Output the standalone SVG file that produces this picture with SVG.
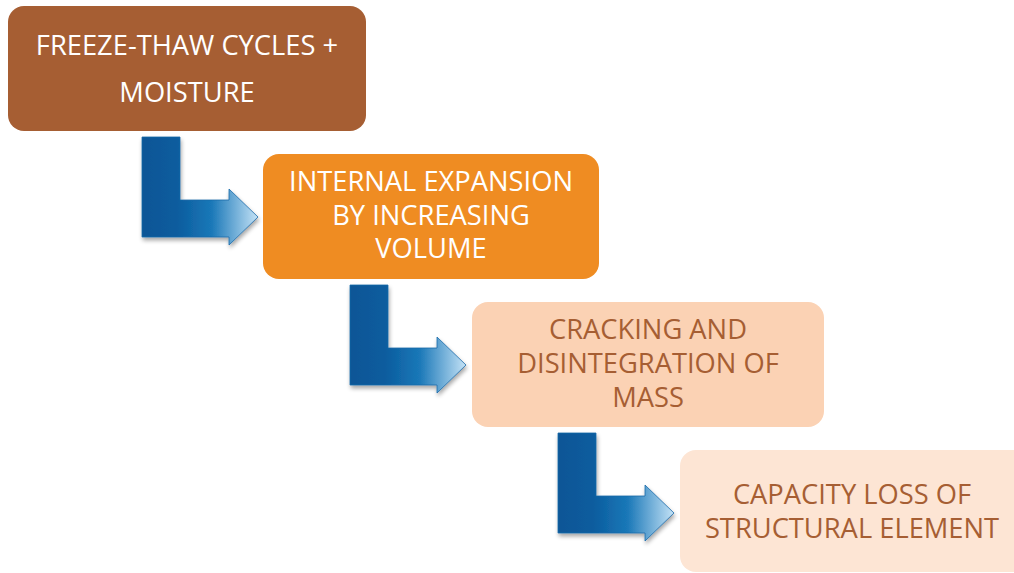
<svg xmlns="http://www.w3.org/2000/svg" width="1014" height="573" viewBox="0 0 1014 573">
<defs>
<linearGradient id="ag" x1="0" y1="0" x2="1" y2="0">
<stop offset="0" stop-color="#0B5696"/>
<stop offset="0.3" stop-color="#0B5C9E"/>
<stop offset="0.6" stop-color="#1A78B8"/>
<stop offset="1" stop-color="#C4E2F6"/>
</linearGradient>
<filter id="sh" x="-20%" y="-20%" width="150%" height="150%">
<feGaussianBlur in="SourceAlpha" stdDeviation="2"/>
<feOffset dx="1" dy="3" result="b"/>
<feComponentTransfer><feFuncA type="linear" slope="0.35"/></feComponentTransfer>
<feMerge><feMergeNode/><feMergeNode in="SourceGraphic"/></feMerge>
</filter>
<path id="arrow" d="M0,0 H38 V63 H87 V52 L116,80 L87,108 V100 H0 Z"/>
</defs>
<style>
text{font-family:"Open Sans","Liberation Sans",sans-serif;font-size:27.3px;text-anchor:middle}
.w{fill:#FFFFFF}
.b{fill:#A65E33}
.arr{fill:url(#ag);stroke:#1A6AA8;stroke-width:0.8;filter:url(#sh)}
</style>
<g id="connectors">
<use href="#arrow" class="arr" transform="translate(142,137)"/>
<use href="#arrow" class="arr" transform="translate(350,285)"/>
<use href="#arrow" class="arr" transform="translate(558,433)"/>
</g>
<g id="n1">
<rect x="8" y="6" width="358" height="125" rx="16" fill="#A65E33"/>
<text class="w" x="187" y="55">FREEZE-THAW CYCLES +</text>
<text class="w" x="187" y="102">MOISTURE</text>
</g>
<g id="n2">
<rect x="263" y="154" width="336" height="125" rx="16" fill="#EF8C22"/>
<text class="w" x="431" y="191">INTERNAL EXPANSION</text>
<text class="w" x="431" y="225">BY INCREASING</text>
<text class="w" x="431" y="258">VOLUME</text>
</g>
<g id="n3">
<rect x="472" y="302" width="352" height="125" rx="16" fill="#FBD2B4"/>
<text class="b" x="648" y="339">CRACKING AND</text>
<text class="b" x="648" y="373">DISINTEGRATION OF</text>
<text class="b" x="648" y="407">MASS</text>
</g>
<g id="n4">
<rect x="680" y="450" width="350" height="122" rx="16" fill="#FDE5D4"/>
<text class="b" x="852" y="504">CAPACITY LOSS OF</text>
<text class="b" x="852" y="538">STRUCTURAL ELEMENT</text>
</g>
</svg>
